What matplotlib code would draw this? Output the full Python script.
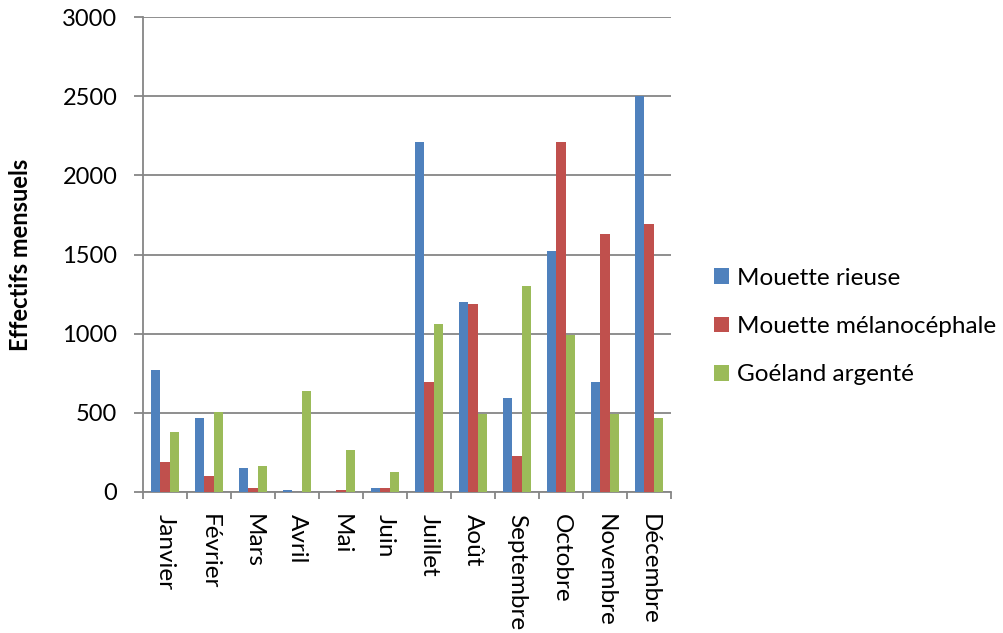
import matplotlib.pyplot as plt
import numpy as np

months = ["Janvier", "Février", "Mars", "Avril", "Mai", "Juin", "Juillet",
          "Août", "Septembre", "Octobre", "Novembre", "Décembre"]
mouette_rieuse = [770, 470, 150, 10, 0, 25, 2210, 1200, 595, 1520, 695, 2500]
mouette_melano = [190, 100, 25, 0, 10, 25, 695, 1190, 225, 2210, 1630, 1695]
goeland_argente = [380, 505, 165, 635, 265, 125, 1060, 495, 1300, 990, 495, 470]

series = [
    ("Mouette rieuse", mouette_rieuse, "#4F81BD"),
    ("Mouette mélanocéphale", mouette_melano, "#C0504D"),
    ("Goéland argenté", goeland_argente, "#9BBB59"),
]

plt.rcParams["font.family"] = ["Lato", "DejaVu Sans"]
grid_col = "#868686"

W, H = 1004, 633
fig = plt.figure(figsize=(W / 100, H / 100), dpi=100)
# plot area in pixels: x 143..671, y 17..492
ax = fig.add_axes([143 / W, 1 - 492 / H, 528 / W, 475 / H])

x = np.arange(len(months))
w = 0.213
for i, (name, vals, col) in enumerate(series):
    ax.bar(x + (i - 1) * w, vals, width=w, color=col, label=name, zorder=3)

ax.set_xlim(-0.5, len(months) - 0.5)
ax.set_ylim(0, 3000)
ax.set_yticks(np.arange(0, 3001, 500))
ax.yaxis.grid(True, color=grid_col, linewidth=1.3, zorder=0)

ax.set_xticks(x)
ax.set_xticklabels(months, rotation=-90, fontsize=17.5)
ax.set_xticks(np.arange(-0.5, len(months), 1), minor=True)
ax.tick_params(axis="x", which="major", length=0, pad=16)
ax.tick_params(axis="x", which="minor", length=5, width=1.3, color=grid_col, direction="out")
ax.tick_params(axis="y", length=6.5, width=1.3, color=grid_col, labelsize=17, pad=12)

for side in ["top", "right"]:
    ax.spines[side].set_visible(False)
for side in ["left", "bottom"]:
    ax.spines[side].set_color(grid_col)
    ax.spines[side].set_linewidth(1.3)

ax.set_ylabel("Effectifs mensuels", fontsize=17, fontweight="bold")
ax.yaxis.set_label_coords((32 - 143) / 528, 0.5)

fig.legend(loc="center left", bbox_to_anchor=(714 / W, 1 - 326.5 / H), frameon=False,
           fontsize=17.5, handlelength=0.62, handleheight=0.62, handletextpad=0.33,
           labelspacing=1.13, borderpad=0, borderaxespad=0)

fig.savefig("out.png", dpi=100)
